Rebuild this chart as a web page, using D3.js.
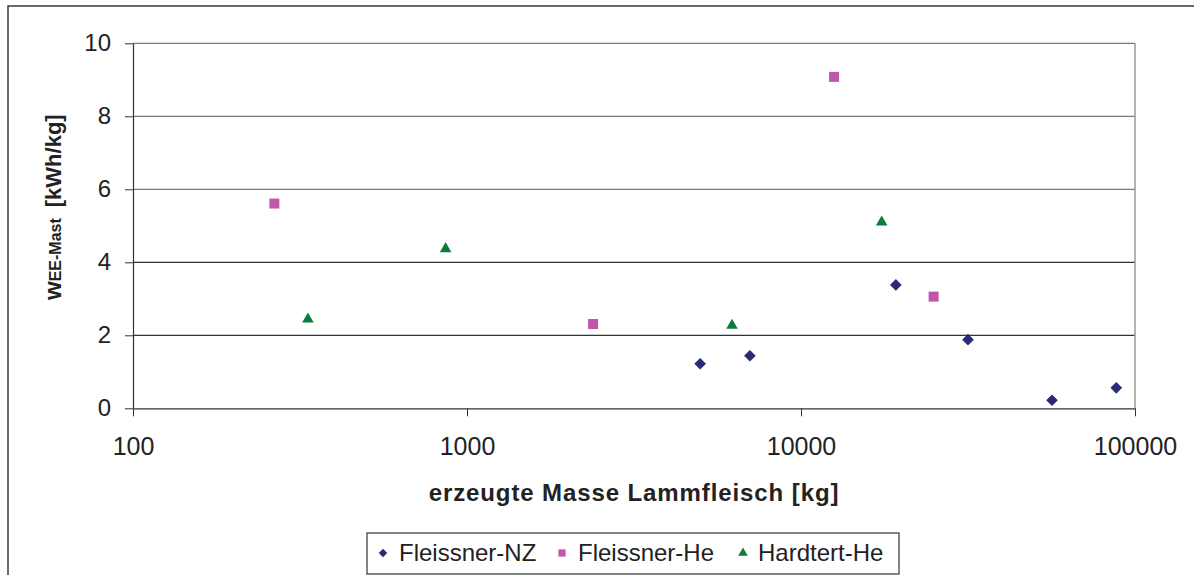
<html>
  <head>
    <meta charset="utf-8" />
    <script src="https://d3js.org/d3.v7.min.js"></script>
    <style>
      body {
        margin: 0;
        background: white;
      }
      svg text {
        font-family: "Liberation Sans", Arial, sans-serif;
        fill: #222;
      }
    </style>
  </head>
  <body>
    <svg width="1194" height="575"></svg>
    <script>
      // values (x = kg lamb meat, y = kWh/kg)
      var nzMass = [4990, 7030, 19230, 31620, 56430, 87900];
      var nzValue = [1.22, 1.44, 3.38, 1.88, 0.22, 0.56];

      var heMass = [265, 2385, 12560, 24950];
      var heValue = [5.61, 2.31, 9.08, 3.06];

      var hardMass = [334, 863, 6215, 17440];
      var hardValue = [2.44, 4.37, 2.27, 5.1];

      var xTicks = [100, 1000, 10000, 100000];
      var yTicks = [0, 2, 4, 6, 8, 10];

      var seriesNames = ["Fleissner-NZ", "Fleissner-He", "Hardtert-He"];

      var plotLeft = 133,
        plotRight = 1135,
        plotTop = 43.3,
        plotBottom = 408.3;

      var svg = d3.select("svg");

      // outer chart frame (runs off right/bottom edge)
      svg
        .append("rect")
        .attr("x", 8)
        .attr("y", 6)
        .attr("width", 1300)
        .attr("height", 700)
        .attr("fill", "white")
        .attr("stroke", "#3a3a3a")
        .attr("stroke-width", 1.5);

      var x = d3.scaleLog().domain([100, 100000]).range([plotLeft, plotRight]);
      var y = d3.scaleLinear().domain([0, 10]).range([plotBottom, plotTop]);

      // gridlines
      svg
        .append("g")
        .selectAll("line")
        .data(yTicks.filter(function (d) {
          return d > 0;
        }))
        .enter()
        .append("line")
        .attr("x1", plotLeft)
        .attr("x2", plotRight)
        .attr("y1", function (d) {
          return y(d);
        })
        .attr("y2", function (d) {
          return y(d);
        })
        .attr("stroke", function (d) {
          return d >= 6 ? "#7a7a7a" : "#333";
        })
        .attr("stroke-width", 1.2);

      // right border of plot area
      svg
        .append("line")
        .attr("x1", plotRight)
        .attr("x2", plotRight)
        .attr("y1", plotTop)
        .attr("y2", plotBottom)
        .attr("stroke", "#999")
        .attr("stroke-width", 1.5);

      // axes
      var xAxis = svg
        .append("g")
        .attr("transform", "translate(0," + plotBottom + ")")
        .call(
          d3
            .axisBottom(x)
            .tickValues(xTicks)
            .tickFormat(d3.format("d"))
            .tickSize(8)
            .tickSizeOuter(0)
            .tickPadding(21)
        );
      xAxis.select(".domain").attr("stroke", "#333").attr("stroke-width", 1.2);
      xAxis.selectAll(".tick line").attr("stroke", "#333");
      xAxis
        .selectAll("text")
        .style("font-size", "25px")
        .attr("fill", "#222");

      var yAxis = svg
        .append("g")
        .attr("transform", "translate(" + plotLeft + ",0)")
        .call(
          d3
            .axisLeft(y)
            .tickValues(yTicks)
            .tickSize(8)
            .tickSizeOuter(0)
            .tickPadding(14)
        );
      yAxis.select(".domain").attr("stroke", "#333").attr("stroke-width", 1.2);
      yAxis.selectAll(".tick line").attr("stroke", "#333");
      yAxis
        .selectAll("text")
        .style("font-size", "24px")
        .attr("fill", "#222");

      // axis titles
      svg
        .append("text")
        .attr("x", (plotLeft + plotRight) / 2)
        .attr("y", 501)
        .attr("text-anchor", "middle")
        .style("font-size", "24px")
        .style("font-weight", "bold")
        .style("letter-spacing", "0.9px")
        .text("erzeugte Masse Lammfleisch [kg]");

      var yt = svg
        .append("text")
        .attr("transform", "translate(61,300) rotate(-90)")
        .attr("text-anchor", "start")
        .style("font-weight", "bold");
      yt.append("tspan").style("font-size", "24px").text("w");
      yt.append("tspan").style("font-size", "16px").text("EE-Mast");
      yt.append("tspan")
        .attr("dx", 11)
        .style("font-size", "22px")
        .text("[kWh/kg]");

      // markers
      var diamond = d3.symbol().type(d3.symbolSquare).size(68);
      var square = d3.symbol().type(d3.symbolSquare).size(100);
      var triangle = d3.symbol().type(d3.symbolTriangle).size(58);

      function drawSeries(xs, ys, path, color, rot) {
        svg
          .append("g")
          .selectAll("path")
          .data(xs)
          .enter()
          .append("path")
          .attr("d", path)
          .attr("fill", color)
          .attr("transform", function (d, i) {
            return (
              "translate(" + x(d) + "," + y(ys[i]) + ") rotate(" + rot + ")"
            );
          });
      }

      drawSeries(nzMass, nzValue, diamond, "#2b2a78", 45);
      drawSeries(heMass, heValue, square, "#c257a9", 0);
      drawSeries(hardMass, hardValue, triangle, "#0a7d3e", 0);

      // legend
      var legend = svg.append("g");
      legend
        .append("rect")
        .attr("x", 367)
        .attr("y", 533)
        .attr("width", 532)
        .attr("height", 41)
        .attr("fill", "white")
        .attr("stroke", "#333")
        .attr("stroke-width", 1.2);

      var legendItems = [
        { name: seriesNames[0], sym: d3.symbol().type(d3.symbolSquare).size(36), color: "#2b2a78", rot: 45, mx: 383, tx: 399 },
        { name: seriesNames[1], sym: d3.symbol().type(d3.symbolSquare).size(52), color: "#c257a9", rot: 0, mx: 562, tx: 578 },
        { name: seriesNames[2], sym: d3.symbol().type(d3.symbolTriangle).size(40), color: "#0a7d3e", rot: 0, mx: 743, tx: 758 },
      ];

      legendItems.forEach(function (it) {
        legend
          .append("path")
          .attr("d", it.sym)
          .attr("fill", it.color)
          .attr("transform", "translate(" + it.mx + ",553) rotate(" + it.rot + ")");
        legend
          .append("text")
          .attr("x", it.tx)
          .attr("y", 561)
          .style("font-size", "24px")
          .text(it.name);
      });
    </script>
  </body>
</html>
